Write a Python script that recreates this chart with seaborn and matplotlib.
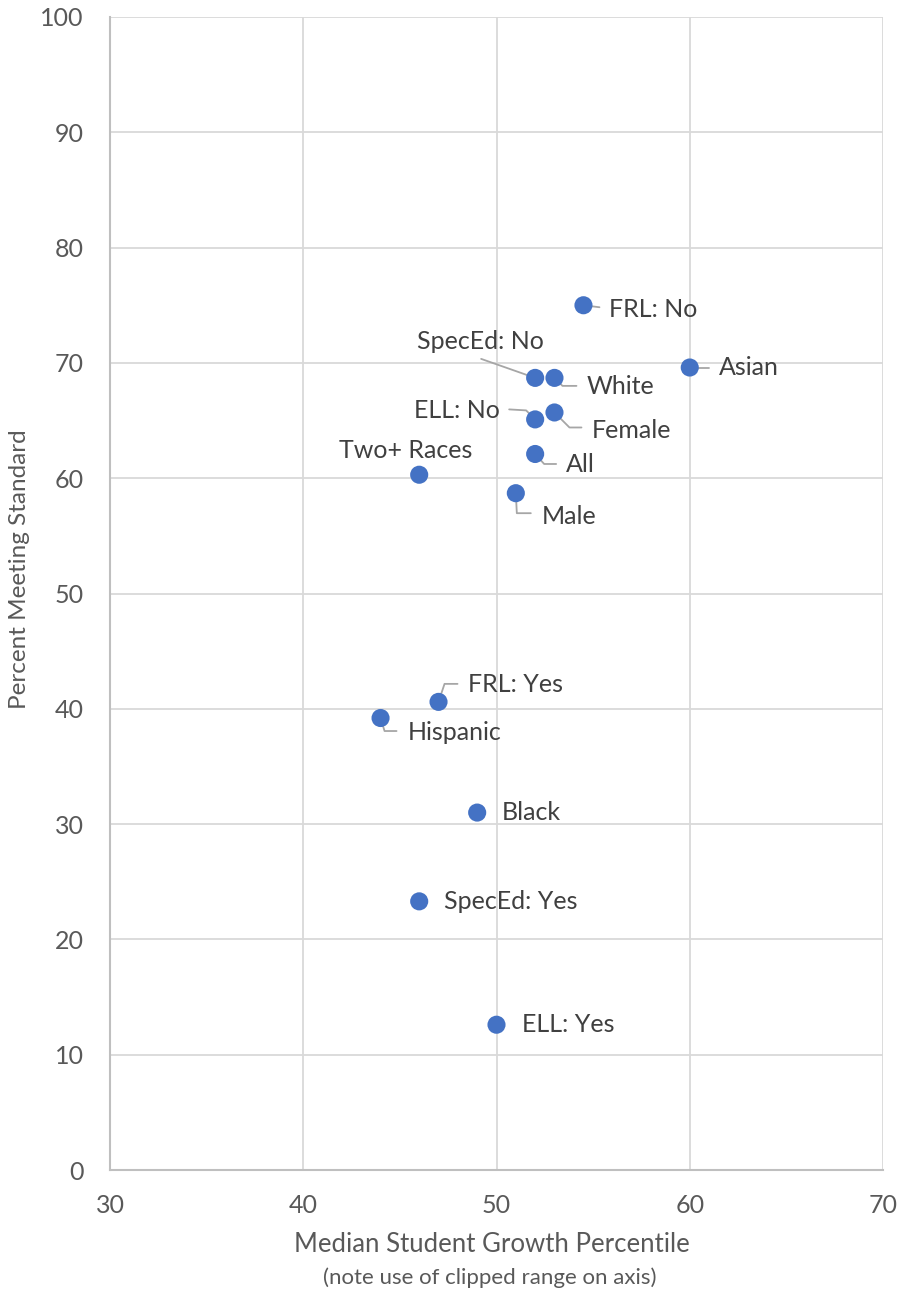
import matplotlib
matplotlib.use("Agg")
import matplotlib.pyplot as plt
import seaborn as sns
import pandas as pd

# Student groups: median growth percentile vs. percent meeting standard
groups = ["FRL: No", "Asian", "White", "SpecEd: No", "ELL: No", "Female", "All",
          "Male", "Two+ Races", "FRL: Yes", "Hispanic", "Black", "SpecEd: Yes", "ELL: Yes"]
growth = [54.5, 60.0, 53.0, 52.0, 52.0, 53.0, 52.0, 51.0, 46.0, 47.0, 44.0, 49.0, 46.0, 50.0]
meeting = [75.0, 69.6, 68.7, 68.7, 65.1, 65.7, 62.1, 58.7, 60.3, 40.6, 39.2, 31.0, 23.3, 12.6]

x_ticks = [30, 40, 50, 60, 70]
y_ticks = [0, 10, 20, 30, 40, 50, 60, 70, 80, 90, 100]

# Label placement: text offset (pixels, y up), alignment, leader polyline offsets
label_layout = {
    "FRL: No":     ((26, -4), "left",   [(0, 0), (16, -2)]),
    "Asian":       ((29, 0), "left",    [(0, 0), (19, 0)]),
    "White":       ((32, -9), "left",   [(0, 0), (8, -8), (22, -8)]),
    "SpecEd: No":  ((-55, 36), "center", [(0, 0), (-54, 19)]),
    "ELL: No":     ((-35, 9), "right",  [(0, 0), (-9, 9), (-26, 10)]),
    "Female":      ((37, -18), "left",  [(0, 0), (15, -15), (27, -15)]),
    "All":         ((31, -11), "left",  [(0, 0), (9, -10), (21, -10)]),
    "Male":        ((26, -23), "left",  [(0, 0), (1, -20), (15, -20)]),
    "Two+ Races":  ((-14, 24), "center", None),
    "FRL: Yes":    ((29, 17), "left",   [(0, 0), (6, 18), (19, 18)]),
    "Hispanic":    ((27, -14), "left",  [(0, 0), (4, -13), (16, -13)]),
    "Black":       ((25, 0), "left",    None),
    "SpecEd: Yes": ((25, 0), "left",    None),
    "ELL: Yes":    ((25, 0), "left",    None),
}

sns.set_style("white")
plt.rcParams["font.family"] = ["Lato", "DejaVu Sans"]

df = pd.DataFrame({"group": groups, "growth": growth, "meeting": meeting})

fig = plt.figure(figsize=(9.02, 12.96), dpi=100)
ax = fig.add_axes([110 / 902, 1 - 1170 / 1296, (883 - 110) / 902, (1170 - 17) / 1296])

ax.set_xlim(30, 70)
ax.set_ylim(0, 100)
ax.set_xticks(x_ticks)
ax.set_yticks(y_ticks)
ax.grid(True, color="#d9d9d9", linewidth=1.3, zorder=0)
ax.set_axisbelow(True)

sns.scatterplot(data=df, x="growth", y="meeting", ax=ax, s=170, color="#4472C4",
                edgecolor="none", linewidth=0, zorder=4, legend=False)

for side in ["top", "right"]:
    ax.spines[side].set_visible(False)
for side in ["left", "bottom"]:
    ax.spines[side].set_color("#bfbfbf")
    ax.spines[side].set_linewidth(1.5)

ax.tick_params(axis="both", length=0, labelsize=18, labelcolor="#595959")
ax.tick_params(axis="x", pad=17)
ax.tick_params(axis="y", pad=19)

ax.set_xlabel("")
ax.set_ylabel("")

fig.text(20 / 902, 1 - 569 / 1296, "Percent Meeting Standard", rotation=90,
         ha="center", va="center", fontsize=17.5, color="#595959")
fig.text(492 / 902, 1 - 1245 / 1296, "Median Student Growth Percentile",
         ha="center", va="center", fontsize=18.5, color="#595959")
fig.text(490 / 902, 1 - 1278 / 1296, "(note use of clipped range on axis)",
         ha="center", va="center", fontsize=16, color="#595959")

to_data = ax.transData.inverted()
for g, gx, gy in zip(groups, growth, meeting):
    (tdx, tdy), ha, leader = label_layout[g]
    px, py = ax.transData.transform((gx, gy))
    ax.annotate(g, (gx, gy), xytext=(tdx, tdy), textcoords="offset pixels",
                ha=ha, va="center", fontsize=18, color="#404040", zorder=5)
    if leader:
        pts = [to_data.transform((px + dx, py + dy)) for dx, dy in leader]
        ax.plot([p[0] for p in pts], [p[1] for p in pts], color="#a6a6a6",
                linewidth=1.3, zorder=3, clip_on=False)

fig.savefig("out.png", dpi=100)
